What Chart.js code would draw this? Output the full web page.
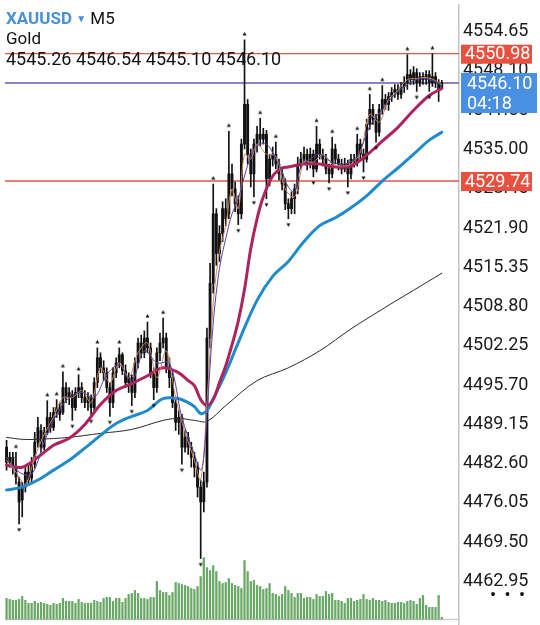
<!DOCTYPE html>
<html>
<head>
<meta charset="utf-8">
<script src="https://cdn.jsdelivr.net/npm/chart.js@4"></script>
<style>
  html, body { margin:0; padding:0; background:#fff; }
  #wrap { position:relative; width:540px; height:625px; overflow:hidden; background:#fff; font-family:Roboto, sans-serif; }
  #c { position:absolute; left:0; top:0; }
  .t { position:absolute; white-space:nowrap; color:#111; }
</style>
</head>
<body>
<div id="wrap">
  <canvas id="c" width="540" height="666"></canvas>
  <div class="t" style="left:6px;top:8px;font-size:17px;line-height:20px;"><span style="color:#4a8fd8;font-weight:bold;">XAUUSD</span> <span style="color:#4a8fd8;font-size:10px;position:relative;top:-2px;">▼</span> M5</div>
  <div class="t" style="left:6px;top:28px;font-size:17px;line-height:20px;">Gold</div>
  <div class="t" id="ohlc" style="left:6px;top:48px;font-size:18px;line-height:21px;"></div>
  <div class="t" style="left:490px;top:585px;font-size:18px;line-height:20px;letter-spacing:2px;">• • •</div>
</div>
<script>
// ---------- DATA ----------
const symbol = 'XAUUSD';
const lastBarOHLC = ['4545.26', '4546.54', '4545.10', '4546.10'];
const timerText = '04:18';

const priceTicks = [4554.65, 4548.10, 4541.55, 4535.00, 4528.45, 4521.90, 4515.35, 4508.80,
  4502.25, 4495.70, 4489.15, 4482.60, 4476.05, 4469.50, 4462.95];
const redLevels = [4550.98, 4529.74];
const currentPrice = 4546.10;

const open = [4485.33,4482.82,4483.64,4481.99,4479.52,4476.52,4478.66,4481.17,4480.18,4482.49,
4486.15,4488.12,4485.33,4487.80,4490.29,4488.62,4491.12,4491.94,4491.12,4495.27,
4493.59,4494.08,4491.94,4494.45,4495.27,4493.59,4492.76,4493.59,4491.94,4496.10,
4500.25,4498.57,4497.74,4495.27,4492.76,4497.74,4499.39,4500.75,4498.07,4496.10,
4496.92,4494.45,4499.39,4502.72,4501.08,4503.55,4501.90,4497.74,4495.27,4501.08,
4502.72,4503.55,4498.57,4496.92,4492.76,4489.47,4490.29,4485.33,4486.97,4485.33,
4483.64,4481.99,4478.66,4476.19,4479.52,4503.55,4512.67,4524.27,4517.65,4520.97,
4525.13,4524.27,4530.92,4528.42,4525.95,4524.27,4535.90,4542.53,4534.21,4530.92,
4535.90,4537.55,4536.72,4537.55,4530.10,4533.39,4534.21,4532.57,4530.92,4529.24,
4525.95,4525.13,4526.78,4528.42,4532.57,4533.39,4534.21,4532.57,4534.21,4531.74,
4535.90,4534.21,4533.39,4531.74,4530.92,4535.08,4533.39,4532.57,4531.74,4532.57,
4530.92,4533.39,4532.90,4535.90,4534.21,4533.39,4539.19,4541.70,4540.06,4537.88,
4541.70,4543.35,4542.53,4543.84,4544.50,4545.02,4544.18,4545.51,4546.17,4547.50,
4546.66,4547.83,4546.17,4547.17,4546.66,4547.50,4546.17,4547.17,4546.17,4545.26];

const high = [4486.48,4484.48,4484.48,4484.48,4480.35,4479.52,4481.99,4482.49,4483.64,4487.80,
4490.29,4489.11,4488.62,4493.09,4491.12,4491.94,4493.26,4492.76,4497.91,4496.10,
4495.27,4494.78,4495.27,4497.41,4496.10,4494.78,4494.45,4494.08,4496.92,4501.90,
4501.08,4499.76,4498.57,4496.10,4498.57,4500.25,4501.90,4501.08,4499.06,4497.74,
4497.41,4500.25,4503.55,4504.04,4504.73,4506.21,4502.72,4498.57,4501.90,4504.37,
4506.87,4504.37,4500.25,4497.74,4493.59,4491.45,4490.79,4488.12,4487.80,4486.15,
4484.48,4482.82,4479.85,4481.17,4505.22,4516.00,4529.24,4525.13,4522.29,4526.28,
4526.78,4538.04,4532.57,4529.57,4527.27,4536.72,4553.29,4543.35,4535.08,4536.72,
4538.86,4540.20,4538.53,4538.20,4534.21,4535.41,4536.23,4533.39,4531.74,4530.10,
4526.78,4527.93,4529.24,4533.72,4534.54,4535.41,4535.08,4535.24,4534.91,4538.86,
4536.72,4535.08,4534.21,4532.57,4537.05,4535.90,4534.21,4533.39,4533.55,4533.23,
4534.21,4534.21,4537.55,4536.72,4535.08,4540.04,4544.18,4542.53,4540.88,4542.53,
4545.67,4544.18,4544.50,4545.34,4545.84,4545.84,4546.17,4547.17,4550.82,4548.33,
4548.83,4548.49,4547.83,4547.83,4548.16,4548.16,4550.98,4547.83,4546.66,4546.54];

const low = [4481.50,4481.99,4480.84,4479.15,4472.54,4473.69,4477.84,4479.15,4479.52,4481.83,
4485.33,4484.48,4484.83,4487.47,4487.80,4488.12,4490.29,4489.80,4490.79,4492.76,
4492.44,4489.80,4491.45,4493.59,4492.76,4491.94,4491.45,4490.62,4491.45,4495.27,
4497.74,4496.43,4494.45,4490.46,4491.94,4496.92,4498.57,4497.41,4495.27,4494.45,
4492.27,4493.59,4498.57,4500.25,4500.25,4501.08,4496.92,4493.26,4494.45,4499.76,
4501.90,4497.74,4495.27,4491.94,4488.12,4487.47,4482.49,4484.48,4484.13,4481.99,
4480.35,4477.01,4466.74,4474.52,4478.66,4501.90,4511.02,4515.67,4516.33,4519.64,
4522.29,4523.44,4527.27,4524.64,4522.45,4523.44,4535.08,4532.57,4528.75,4527.10,
4534.54,4535.57,4535.90,4526.78,4528.92,4532.24,4531.74,4529.93,4528.26,4524.96,
4523.44,4524.27,4524.27,4527.60,4531.74,4532.57,4531.58,4531.91,4530.43,4531.25,
4533.39,4532.24,4530.92,4529.41,4530.26,4532.57,4531.58,4530.92,4531.25,4528.75,
4530.10,4532.07,4532.24,4533.39,4531.25,4532.90,4538.37,4539.19,4536.23,4537.22,
4540.88,4541.70,4541.54,4543.02,4543.68,4543.35,4543.51,4544.50,4545.02,4545.84,
4545.84,4544.69,4545.51,4545.84,4545.84,4544.69,4545.51,4545.34,4543.02,4545.10];

const close = [4482.82,4483.64,4481.99,4480.35,4476.19,4478.66,4481.17,4479.85,4482.49,4486.15,
4488.62,4485.33,4487.80,4490.29,4488.62,4491.12,4491.94,4490.79,4495.27,4493.59,
4494.45,4491.94,4494.45,4495.27,4493.59,4492.76,4493.59,4491.94,4496.10,4500.25,
4498.57,4497.74,4495.27,4492.76,4497.74,4499.39,4500.75,4498.07,4496.10,4496.92,
4494.45,4499.39,4502.72,4501.08,4503.55,4501.90,4497.74,4495.27,4501.08,4502.72,
4503.55,4498.57,4496.92,4492.76,4489.47,4490.29,4485.33,4486.97,4485.33,4483.64,
4481.99,4478.66,4476.19,4479.52,4503.55,4512.67,4524.27,4517.65,4520.97,4525.13,
4523.44,4530.92,4528.42,4525.95,4524.27,4535.90,4542.53,4534.21,4530.92,4535.90,
4537.55,4536.72,4537.55,4530.10,4533.39,4534.21,4532.57,4530.92,4529.24,4525.95,
4525.13,4526.78,4528.42,4532.57,4533.39,4534.21,4532.57,4534.21,4531.74,4535.90,
4534.21,4533.39,4531.74,4530.92,4535.08,4533.39,4532.57,4531.74,4532.57,4530.92,
4533.39,4532.90,4535.90,4534.21,4533.39,4539.19,4541.70,4540.06,4537.88,4541.70,
4543.35,4542.53,4543.84,4544.50,4545.02,4544.18,4545.51,4546.17,4547.50,4546.66,
4547.83,4546.17,4547.17,4546.66,4547.50,4546.17,4547.17,4546.17,4545.02,4546.10];

const volume = [210,200,190,190,200,230,190,160,160,180,
160,170,160,150,140,160,150,160,210,180,
180,180,160,200,170,160,160,160,190,180,
170,210,220,220,180,210,210,170,210,250,
260,290,260,210,210,200,220,220,380,290,
270,270,240,270,370,360,350,340,330,310,
300,330,430,620,520,490,540,480,380,360,
370,410,360,340,330,310,590,480,380,390,
340,330,300,310,360,260,250,230,250,330,
290,260,220,260,260,210,220,220,200,250,
230,230,280,250,260,190,190,180,160,210,
210,180,190,200,250,200,190,210,190,190,
180,190,170,160,160,170,170,160,180,190,
180,150,210,240,140,120,120,120,240,20];

const maRedIdx = [0,5,10,15,20,25,30,35,40,45,50,55,58,60,62,64,66,68,70,72,74,76,78,80,82,85,88,90,95,100,105,110,115,120,125,130,135,139];
const maRed = [4482.32,4481.99,4483.64,4485.65,4486.81,4489.11,4492.44,4494.78,4495.93,4497.25,
4498.57,4497.74,4496.43,4495.60,4493.26,4492.27,4493.26,4496.10,4498.90,4502.39,
4506.37,4511.68,4518.47,4523.44,4527.10,4530.58,4531.91,4532.07,4532.57,4532.57,
4532.07,4532.24,4534.05,4536.39,4538.70,4541.54,4544.01,4545.18];

const maBlueIdx = [0,5,10,15,20,25,30,35,40,45,50,55,58,60,62,64,66,70,75,80,85,90,95,100,105,110,115,120,125,130,135,139];
const maBlue = [4478.17,4478.66,4479.85,4481.50,4483.14,4485.16,4487.30,4489.28,4490.46,4491.45,
4493.42,4493.42,4492.76,4492.11,4490.95,4491.45,4493.42,4497.74,4504.04,4509.83,
4513.82,4516.33,4519.64,4522.29,4523.61,4525.29,4527.27,4529.74,4531.91,4534.21,
4536.56,4537.88];

const maBlackIdx = [0,5,10,20,30,40,50,55,60,64,70,80,90,100,110,120,130,139];
const maBlack = [4486.97,4486.64,4486.64,4486.97,4487.63,4488.29,4489.80,4490.13,4489.80,4489.64,
4492.27,4496.43,4498.57,4501.41,4505.06,4508.35,4511.52,4514.34];

const maPurpleIdx = [0,4,8,12,16,20,24,28,32,36,40,44,48,52,56,60,62,63,64,66,68,70,72,74,76,78,80,83,86,88,90,92,94,97,100,104,108,112,116,120,124,128,132,136,139];
const maPurple = [4483.64,4481.17,4480.84,4486.15,4490.79,4493.59,4494.45,4493.59,4497.41,4499.06,
4496.43,4501.41,4499.39,4499.39,4490.29,4484.13,4481.50,4483.64,4490.79,4506.05,
4515.18,4520.13,4524.27,4526.78,4530.58,4533.88,4535.57,4535.90,4533.39,4531.25,
4528.75,4527.93,4532.07,4533.39,4534.21,4532.90,4532.57,4533.88,4538.86,4541.70,
4544.18,4545.84,4546.84,4546.51,4545.67];

const maOrangeIdx = [0,3,6,9,12,15,18,21,24,27,30,33,36,39,42,45,48,51,54,57,60,62,64,66,68,70,72,74,76,78,80,83,86,89,92,95,98,101,104,107,110,113,116,119,122,125,128,131,134,137,139];
const maOrange = [4483.14,4481.17,4479.15,4483.64,4487.47,4490.29,4493.59,4493.59,4494.78,4492.76,
4498.57,4496.10,4499.39,4496.92,4501.08,4502.72,4496.92,4501.41,4493.59,4487.80,
4483.14,4479.85,4492.76,4509.34,4517.98,4522.29,4528.42,4525.13,4534.21,4533.39,
4535.90,4534.21,4533.88,4528.42,4527.10,4532.90,4532.90,4534.21,4532.57,4532.24,
4532.57,4534.54,4540.88,4539.54,4543.35,4544.85,4546.66,4546.84,4547.00,4546.51,
4545.84];

const fractalUpIdx = [3,13,16,18,23,29,36,45,50,66,71,76,81,86,99,104,112,116,120,128,136];
const fractalDownIdx = [4,21,27,33,40,47,56,62,74,79,83,90,98,103,109,114,118,131,135];

const slotCount = 145; // bars plus empty space to the right
const categories = Array.from({length: slotCount}, (_, i) => 'bar' + i);

// ---------- BUILD ----------
document.getElementById('ohlc').textContent = lastBarOHLC.join(' ');

function sparse(idx, vals) {
  const arr = new Array(slotCount).fill(null);
  idx.forEach((k, j) => { arr[k] = vals[j]; });
  return arr;
}
function fractalMarker(up) {
  const c = document.createElement('canvas');
  c.width = 5; c.height = 18;
  const g = c.getContext('2d');
  g.fillStyle = '#111';
  g.beginPath();
  if (up) { g.moveTo(0.5, 4.5); g.lineTo(4.5, 4.5); g.lineTo(2.5, 1); }
  else { g.moveTo(0.5, 13.5); g.lineTo(4.5, 13.5); g.lineTo(2.5, 17); }
  g.closePath(); g.fill();
  return c;
}

const bodies = open.map((o, i) => [o, close[i]]);
const wicks = low.map((l, i) => [l, high[i]]);
const upMarks = sparse(fractalUpIdx, fractalUpIdx.map(i => high[i]));
const downMarks = sparse(fractalDownIdx, fractalDownIdx.map(i => low[i]));

const levelsPlugin = {
  id: 'levels',
  beforeDatasetsDraw(chart) {
    const { ctx, chartArea: a, scales } = chart;
    const y = scales.y, yv = scales.yv;
    ctx.save();
    const yb = Math.round(yv.getPixelForValue(0)) + 0.5;
    ctx.strokeStyle = '#cfcfcf'; ctx.lineWidth = 1.5;
    ctx.beginPath(); ctx.moveTo(a.left, yb); ctx.lineTo(a.right, yb); ctx.stroke();
    redLevels.forEach(v => {
      const py = y.getPixelForValue(v);
      ctx.strokeStyle = '#e2564a'; ctx.lineWidth = 1.3;
      ctx.beginPath(); ctx.moveTo(a.left, py); ctx.lineTo(a.right, py); ctx.stroke();
    });
    const pc = y.getPixelForValue(currentPrice);
    ctx.strokeStyle = '#6c58a6'; ctx.lineWidth = 1.6;
    ctx.beginPath(); ctx.moveTo(a.left, pc); ctx.lineTo(a.right, pc); ctx.stroke();
    ctx.restore();
  },
  afterDraw(chart) {
    const { ctx, chartArea: a, scales } = chart;
    const y = scales.y;
    ctx.save();
    ctx.font = '18px Roboto';
    ctx.textBaseline = 'middle';
    ctx.textAlign = 'left';
    redLevels.forEach(v => {
      const py = y.getPixelForValue(v);
      ctx.fillStyle = '#e8503f';
      ctx.fillRect(a.right + 2, py - 9, 532 - a.right - 2, 19);
      ctx.fillStyle = '#fff';
      ctx.fillText(v.toFixed(2), a.right + 6, py + 1);
    });
    const pc = y.getPixelForValue(currentPrice);
    ctx.fillStyle = '#4a90e2';
    ctx.fillRect(a.right + 2, pc - 10, 537 - a.right - 2, 40);
    ctx.fillStyle = '#fff';
    ctx.fillText(currentPrice.toFixed(2), a.right + 8, pc + 2);
    ctx.fillText(timerText, a.right + 8, pc + 21.5);
    ctx.restore();
  }
};

const thinLine = (data, color, width, order) => ({
  type: 'line', data, borderColor: color, borderWidth: width, pointRadius: 0,
  spanGaps: true, tension: 0.35, fill: false, order, yAxisID: 'y',
  borderCapStyle: 'round', borderJoinStyle: 'round'
});

new Chart(document.getElementById('c'), {
  type: 'bar',
  data: {
    labels: categories,
    datasets: [
      { label: 'Volume', data: volume, yAxisID: 'yv', backgroundColor: '#6aa866',
        barThickness: 1.6, grouped: false, order: 20 },
      { label: 'Wicks', data: wicks, yAxisID: 'y', backgroundColor: '#111',
        barThickness: 1, grouped: false, order: 12 },
      { label: 'Bodies', data: bodies, yAxisID: 'y', backgroundColor: '#111',
        barThickness: 2.2, grouped: false, order: 11 },
      thinLine(sparse(maBlackIdx, maBlack), '#2a2a2a', 1, 9),
      thinLine(sparse(maBlueIdx, maBlue), '#1f8bcc', 3, 8),
      thinLine(sparse(maRedIdx, maRed), '#b0225d', 3, 7),
      thinLine(sparse(maOrangeIdx, maOrange), '#d0845a', 1, 6),
      thinLine(sparse(maPurpleIdx, maPurple), '#5546a6', 1, 5),
      { type: 'line', data: upMarks, showLine: false, pointStyle: fractalMarker(true),
        yAxisID: 'y', order: 2, spanGaps: false },
      { type: 'line', data: downMarks, showLine: false, pointStyle: fractalMarker(false),
        yAxisID: 'y', order: 2, spanGaps: false }
    ]
  },
  options: {
    responsive: false,
    animation: false,
    devicePixelRatio: 1,
    layout: { padding: 0 },
    plugins: { legend: { display: false }, tooltip: { enabled: false } },
    scales: {
      x: { type: 'category', display: false, offset: true },
      y: {
        position: 'right', min: 4449.65, max: 4559.11,
        afterBuildTicks: s => { s.ticks = priceTicks.map(v => ({ value: v })); },
        afterFit: s => { s.width = 81; s.paddingTop = 0; s.paddingBottom = 0; },
        grid: { display: false, drawTicks: false },
        border: { display: true, color: '#c4c4c4', width: 1.5 },
        ticks: { callback: v => Number(v).toFixed(2), color: '#1a1a1a', padding: 4,
          autoSkip: false, font: { family: 'Roboto', size: 18 } }
      },
      yv: { display: false, min: -420, max: 6180,
        afterFit: s => { s.paddingTop = 0; s.paddingBottom = 0; } }
    }
  },
  plugins: [levelsPlugin]
});
</script>
</body>
</html>
